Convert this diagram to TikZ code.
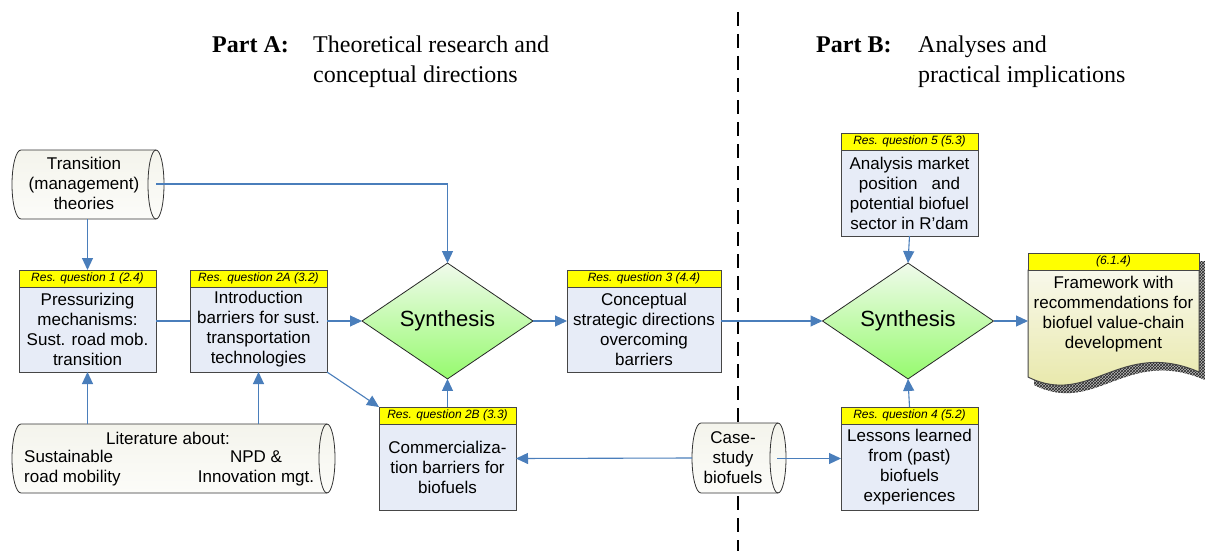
\documentclass[tikz,border=0pt]{standalone}
\usepackage{fontspec}
\setmainfont{Liberation Sans}
\newfontfamily\serifttl{Liberation Serif}
\usetikzlibrary{shapes.geometric,arrows.meta,fit,patterns}
\definecolor{arrowblue}{RGB}{74,126,187}
\definecolor{boxfill}{RGB}{231,236,247}
\definecolor{hdryellow}{RGB}{255,255,0}
\definecolor{boxline}{RGB}{70,70,70}
\definecolor{cyltop}{RGB}{244,244,236}
\definecolor{cylbot}{RGB}{252,252,249}
\definecolor{syntop}{RGB}{240,250,236}
\definecolor{synbot}{RGB}{150,250,110}
\definecolor{doctop}{RGB}{248,248,235}
\definecolor{docbot}{RGB}{230,230,160}
\newcommand\cylinderpath[5]{%
  \path[cyl] (#1+9,#2) -- (#3-8,#2) arc[start angle=90,end angle=-90,x radius=8pt,y radius=#5pt]
     -- (#1+9,#4) arc[start angle=270,end angle=90,x radius=9pt,y radius=#5pt] -- cycle;
  \draw[black!80, line width=0.8pt] (#3-8,#2) arc[start angle=90,end angle=270,x radius=8pt,y radius=#5pt];}
\begin{document}
\begin{tikzpicture}[x=1pt,y=-1pt,
 body/.style={draw=boxline, line width=1pt, fill=boxfill, inner sep=0pt, outer sep=0pt, align=center, font=\fontsize{17}{20}\selectfont},
 hdr/.style={draw=boxline, line width=1pt, fill=hdryellow, inner sep=0pt, outer sep=0pt, minimum height=17pt, font=\fontsize{12}{14}\selectfont\itshape, anchor=south},
 conn/.style={draw=arrowblue, line width=1.1pt},
 arr/.style={conn, -{Triangle[length=12pt,width=11pt]}},
 syn/.style={diamond, draw=black!85, line width=0.8pt, top color=syntop, bottom color=synbot, minimum width=171pt, minimum height=103pt, inner sep=0pt, outer sep=0pt, font=\fontsize{22}{24}\selectfont},
 cyl/.style={draw=black!80, line width=0.8pt, top color=cyltop, bottom color=cylbot},
 wholebox/.style={inner sep=0pt, outer sep=0pt, draw=none},
 ttl/.style={font=\serifttl\fontsize{24}{30}\selectfont, inner sep=0pt, anchor=base west},
 txt/.style={inner sep=0pt, font=\fontsize{17}{20}\selectfont, align=center}
]
\useasboundingbox (0,0) rectangle (1205,551);
\fill[white] (0,0) rectangle (1205,551);

% titles
\node[ttl] (ta1) at (212,53) {\bfseries Part A:};
\node[ttl] (ta2) at (313,53) {Theoretical research and};
\node[ttl] (ta3) at (313,83) {conceptual directions};
\node[ttl] (tb1) at (816,53) {\bfseries Part B:};
\node[ttl] (tb2) at (918,53) {Analyses and};
\node[ttl] (tb3) at (918,83) {practical implications};

% dashed divider
\draw[black, line width=1.6pt, dash pattern=on 14pt off 8pt] (738,12) -- (738,551);

% cylinders
\cylinderpath{12}{150}{164}{219}{34.5}
\node[wholebox, minimum width=152pt, minimum height=69pt] (trans) at (88,184.5) {};
\node[txt] (transtxt) at (84,183.5) {Transition\\(management)\\theories};
\coordinate (transR) at (156,184);

\cylinderpath{12}{424}{335}{493}{34.5}
\node[wholebox, minimum width=323pt, minimum height=69pt] (lit) at (173.5,458.5) {};
\node[txt] (littxt1) at (168,438) {Literature about:};
\node[txt, align=left, anchor=west] (littxt2) at (24,468) {Sustainable\\road mobility};
\node[txt] (littxt3) at (256,468) {NPD \&\\Innovation mgt.};

\cylinderpath{692}{423}{786}{493}{35}
\node[wholebox, minimum width=94pt, minimum height=70pt] (case) at (739,458) {};
\node[txt] (casetxt) at (733,458) {Case-\\study\\biofuels};
\coordinate (caseR) at (777,458.5);

% research question boxes
\node[body, minimum width=137pt, minimum height=85pt] (b1) at (87.5,329.5) {Pressurizing\\mechanisms:\\Sust. road mob.\\transition};
\node[hdr, minimum width=137pt] (h1) at (b1.north) {Res. question 1 (2.4)};
\node[wholebox, fit=(h1)(b1)] (q1) {};

\node[body, minimum width=137pt, minimum height=85pt] (b2a) at (258.5,329.5) {Introduction\\barriers for sust.\\transportation\\technologies};
\node[hdr, minimum width=137pt] (h2a) at (b2a.north) {Res. question 2A (3.2)};
\node[wholebox, fit=(h2a)(b2a)] (q2a) {};

\node[body, minimum width=154pt, minimum height=85pt] (b3) at (644,329.5) {Conceptual\\strategic directions\\overcoming\\barriers};
\node[hdr, minimum width=154pt] (h3) at (b3.north) {Res. question 3 (4.4)};
\node[wholebox, fit=(h3)(b3)] (q3) {};

\node[body, minimum width=137pt, minimum height=86pt] (b2b) at (447.5,467) {Commercializa-\\tion barriers for\\biofuels};
\node[hdr, minimum width=137pt] (h2b) at (b2b.north) {Res. question 2B (3.3)};
\node[wholebox, fit=(h2b)(b2b)] (q2b) {};

\node[body, minimum width=137pt, minimum height=86pt] (b5) at (909.5,193) {Analysis market\\position~~ and\\potential biofuel\\sector in R'dam};
\node[hdr, minimum width=137pt] (h5) at (b5.north) {Res. question 5 (5.3)};
\node[wholebox, fit=(h5)(b5)] (q5) {};

\node[body, minimum width=137pt, minimum height=86pt] (b4) at (909.5,467) {Lessons learned\\from (past)\\biofuels\\experiences};
\node[hdr, minimum width=137pt] (h4) at (b4.north) {Res. question 4 (5.2)};
\node[wholebox, fit=(h4)(b4)] (q4) {};

% synthesis diamonds
\node[syn] (syn1) at (447.5,321) {Synthesis};
\node[syn] (syn2) at (908,321) {Synthesis};

% framework document
\fill[gray!55, shift={(6,8)}] (1028,253) -- (1199,253) -- (1199,372) .. controls (1120,338) and (1090,408) .. (1028,377) -- cycle;
\path[pattern=crosshatch, pattern color=black!85, shift={(6,8)}] (1028,253) -- (1199,253) -- (1199,372) .. controls (1120,338) and (1090,408) .. (1028,377) -- cycle;
\path[draw=boxline, line width=1pt, top color=doctop, bottom color=docbot] (1028,270) -- (1199,270) -- (1199,372) .. controls (1120,338) and (1090,408) .. (1028,377) -- cycle;
\node[hdr, minimum width=171pt] (fwh) at (1113.5,270) {(6.1.4)};
\node[txt] (fwtxt) at (1113.5,314.5) {Framework with\\recommendations for\\biofuel value-chain\\development};
\node[wholebox, minimum width=171pt, minimum height=136pt] (fw) at (1113.5,321) {};

% connectors
\draw[arr] (trans.south -| q1.north) -- (q1.north);
\draw[arr] (transR) -| (syn1.north);
\draw[conn] (q1.east) -- (q2a.west);
\draw[arr] (q2a.east) -- (syn1.west);
\draw[arr] (q2a.south east) -- (q2b.north west);
\draw[arr] (q2b.north) -- (syn1.south);
\draw[arr] (lit.north -| q1.south) -- (q1.south);
\draw[arr] (lit.north -| q2a.south) -- (q2a.south);
\draw[arr] (syn1.east) -- (q3.west);
\draw[arr] (q3.east) -- (syn2.west);
\draw[arr] (q5.south) -- (syn2.north);
\draw[arr] (q4.north) -- (syn2.south);
\draw[arr] (syn2.east) -- (fw.west |- syn2.east);
\draw[arr] (case.west) -- (q2b.east);
\draw[arr] (caseR) -- (q4.west);
\end{tikzpicture}
\end{document}
